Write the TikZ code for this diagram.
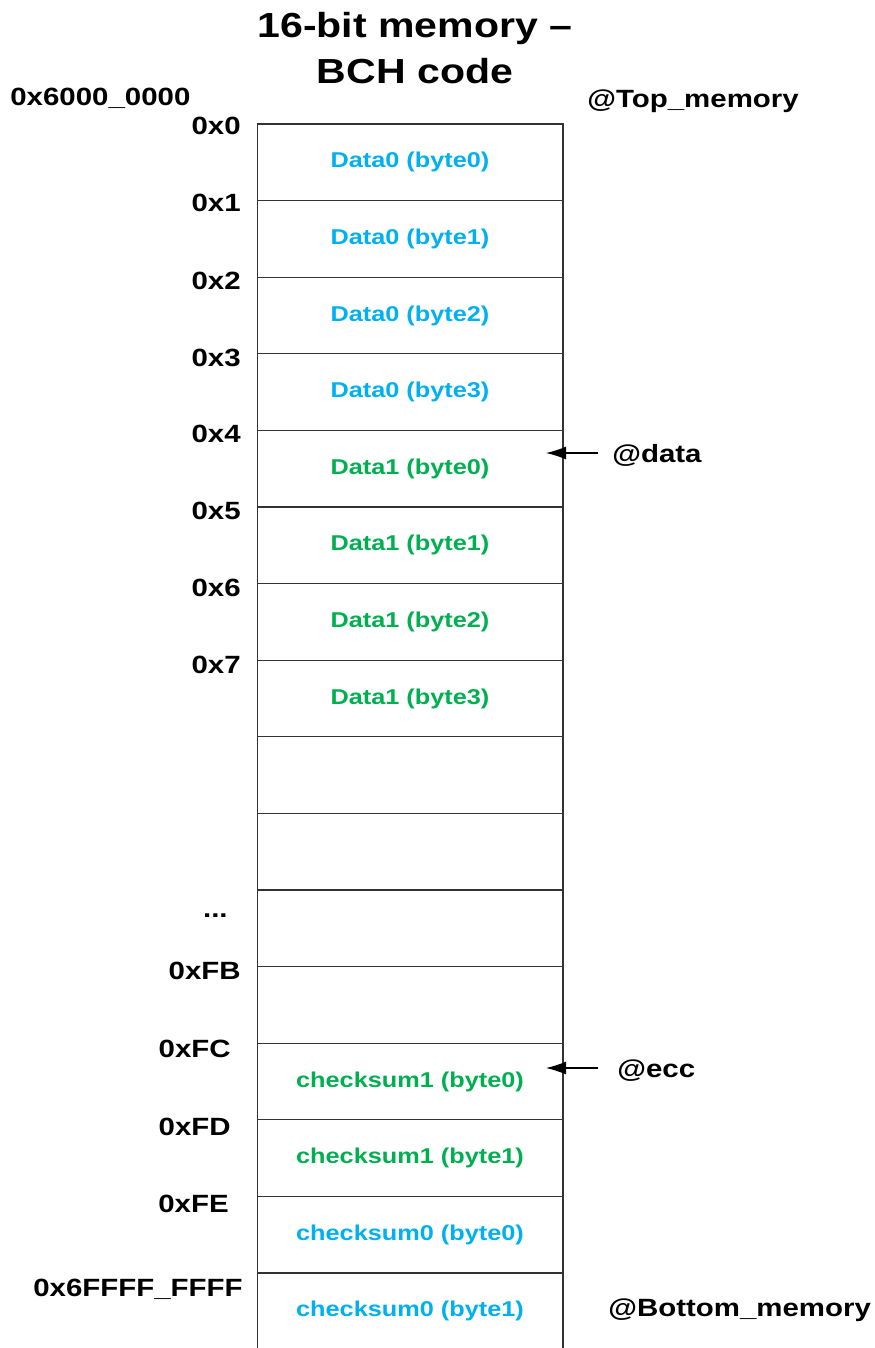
\documentclass[tikz,border=0pt]{standalone}
\usepackage{fontspec}
\setmainfont{Liberation Sans}[FakeStretch=1.18]
\usetikzlibrary{positioning,arrows.meta}
\definecolor{dblue}{HTML}{00B0F0}
\definecolor{dgreen}{HTML}{00B050}

\begin{document}
\begin{tikzpicture}[x=0.02cm,y=-0.02cm,>={Latex[length=0.4cm,width=0.26cm]},
  cell/.style={draw=black!80,line width=0.6pt,minimum width=6.12cm,minimum height=1.532cm,
    inner sep=0pt,outer sep=0pt,font=\fontsize{12.2}{14}\selectfont\bfseries},
  addr/.style={font=\fontsize{14.2}{17}\selectfont\bfseries,inner sep=0pt,anchor=base east},
  tag/.style={font=\fontsize{14.2}{17}\selectfont\bfseries,inner ysep=0pt,anchor=base west}]
  \useasboundingbox (0,0) rectangle (875,1348);
  % title
  \node[align=center,font=\fontsize{19.8}{26.6}\selectfont\bfseries] (title) at (415,48) {16-bit memory –\\BCH code};
  % memory cells
  \foreach \t/\c [count=\i from 0] in {Data0 (byte0)/dblue,Data0 (byte1)/dblue,Data0 (byte2)/dblue,Data0 (byte3)/dblue,
      Data1 (byte0)/dgreen,Data1 (byte1)/dgreen,Data1 (byte2)/dgreen,Data1 (byte3)/dgreen,
      /black,/black,/black,/black,
      checksum1 (byte0)/dgreen,checksum1 (byte1)/dgreen,checksum0 (byte0)/dblue,checksum0 (byte1)/dblue}
    \node[cell,text=\c] (c\i) at (410,{162.3+76.6*\i}) {\t};
  % addresses
  \node[addr,anchor=base west] (base) at (10,106) {0x6000\_0000};
  \foreach \a/\y [count=\i from 0] in {0x0/135,0x1/212,0x2/289,0x3/366,0x4/442,0x5/519,0x6/596,0x7/673}
    \node[addr] (a\i) at (241,\y) {\a};
  \node[addr] (dots) at (228,917) {...};
  \node[addr] (aFB) at (241,979) {0xFB};
  \node[addr] (aFC) at (231,1057) {0xFC};
  \node[addr] (aFD) at (231,1135) {0xFD};
  \node[addr] (aFE) at (229,1212) {0xFE};
  \node[addr] (aend) at (243,1296) {0x6FFFF\_FFFF};
  % pointers
  \node[tag,inner xsep=0pt] (ttop) at (587,108) {@Top\_memory};
  \node[tag,inner xsep=0.28cm] (tdata) at (598,462) {@data};
  \node[tag,inner xsep=0.38cm] (tecc) at (598,1077) {@ecc};
  \node[tag,inner xsep=0pt] (tbot) at (608,1316) {@Bottom\_memory};
  \coordinate (pdata) at (546,453);
  \coordinate (pecc) at (546,1068);
  \draw[<-,line width=0.6pt] (pdata) -- (pdata -| tdata.west);
  \draw[<-,line width=0.6pt] (pecc) -- (pecc -| tecc.west);
\end{tikzpicture}
\end{document}
